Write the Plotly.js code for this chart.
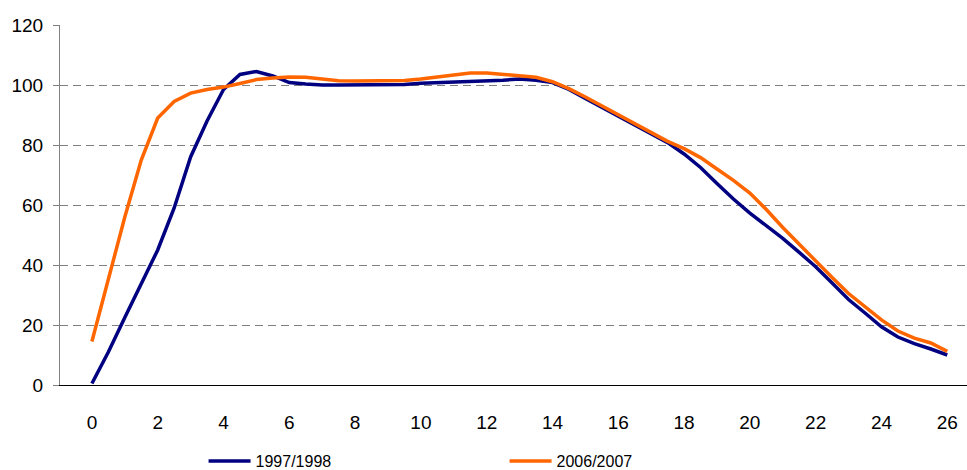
<!DOCTYPE html>
<html>
<head>
<meta charset="utf-8">
<script src="https://cdn.plot.ly/plotly-3.0.1.min.js"></script>
<style>html,body{margin:0;padding:0;background:#fff;}#chart{width:967px;height:470px;}</style>
</head>
<body>
<div id="chart"></div>
<script>
var xValues = [0,0.5,1,1.5,2,2.5,3,3.5,4,4.5,5,5.5,6,6.5,7,7.5,8,8.5,9,9.5,10,10.5,11,11.5,12,12.5,13,13.5,14,14.5,15,15.5,16,16.5,17,17.5,18,18.5,19,19.5,20,20.5,21,21.5,22,22.5,23,23.5,24,24.5,25,25.5,26];
var series1997 = [0.5,11,22.5,33.5,45,59,76,88,98.5,103.5,104.5,103,100.8,100.3,100,100,100,100,100,100.2,100.6,100.8,101.1,101.2,101.3,101.6,102,101.6,100.8,98.5,95.5,92.5,89.5,86.5,83.5,80.8,77,72.5,67.2,62,57.3,53,48.9,44.2,39.4,34,28.5,24,19.4,16,13.8,12,10];
var series2006 = [14.5,35,56,75,89,94.5,97.3,98.5,99.3,100.5,101.8,102.3,102.7,102.6,102,101.4,101.3,101.3,101.3,101.5,102,102.6,103.3,104,104,103.6,103.2,102.6,101.1,98.8,96,93,90,87,84,81.2,78.8,75.8,72,68.2,64,58.5,52.5,46.8,41.2,35.8,30.5,26,21.7,18,15.6,14,11.2];
var seriesNames = ["1997/1998","2006/2007"];
var xTickLabels = [0,2,4,6,8,10,12,14,16,18,20,22,24,26];
var xMinorTicks = [-1,1,3,5,7,9,11,13,15,17,19,21,23,25];
var yTicks = [0,20,40,60,80,100,120];

var font = {family: "Liberation Sans, Arial, sans-serif", size: 19, color: "#000"};
var legendFont = {family: "Liberation Sans, Arial, sans-serif", size: 16, color: "#000"};
var xr = [-0.97, 26.6];

var data = [
  {x: xValues, y: series1997, name: seriesNames[0], type: "scatter", mode: "lines",
   line: {color: "#000080", width: 3.5}},
  {x: xValues, y: series2006, name: seriesNames[1], type: "scatter", mode: "lines",
   line: {color: "#FF6600", width: 3.5}}
];

var layout = {
  width: 967, height: 470,
  margin: {l: 60, r: 0, t: 25, b: 85, autoexpand: false},
  paper_bgcolor: "#fff", plot_bgcolor: "#fff",
  font: font,
  showlegend: true,
  legend: {orientation: "h", xref: "container", yref: "container", x: 0.2105, xanchor: "left",
           y: 0.019, yanchor: "middle", itemwidth: 42,
           entrywidth: 244, entrywidthmode: "pixels", font: legendFont, bgcolor: "rgba(0,0,0,0)"},
  xaxis: {range: xr, tickmode: "array", tickvals: xTickLabels, ticktext: xTickLabels.map(String),
          ticks: "", showgrid: false, zeroline: false, showline: true, linecolor: "#000", linewidth: 1,
          tickfont: font, ticklabelstandoff: 20, fixedrange: true, automargin: false},
  xaxis2: {range: xr, overlaying: "x", anchor: "y", side: "bottom", tickmode: "array", tickvals: xMinorTicks,
           ticks: "outside", ticklen: 6, tickcolor: "#000", tickwidth: 1, showticklabels: false,
           showgrid: false, zeroline: false, showline: false, automargin: false},
  yaxis: {range: [0, 120], tickmode: "array", tickvals: yTicks, ticks: "outside", ticklen: 6,
          tickcolor: "#808080", tickwidth: 1, showline: true, linecolor: "#808080", linewidth: 1,
          showgrid: true, gridcolor: "#808080", gridwidth: 1, griddash: "8px,5px", zeroline: false,
          tickfont: font, ticklabelstandoff: 6, fixedrange: true, automargin: false}
};

Plotly.newPlot("chart", data, layout, {staticPlot: true, displayModeBar: false});
</script>
</body>
</html>
